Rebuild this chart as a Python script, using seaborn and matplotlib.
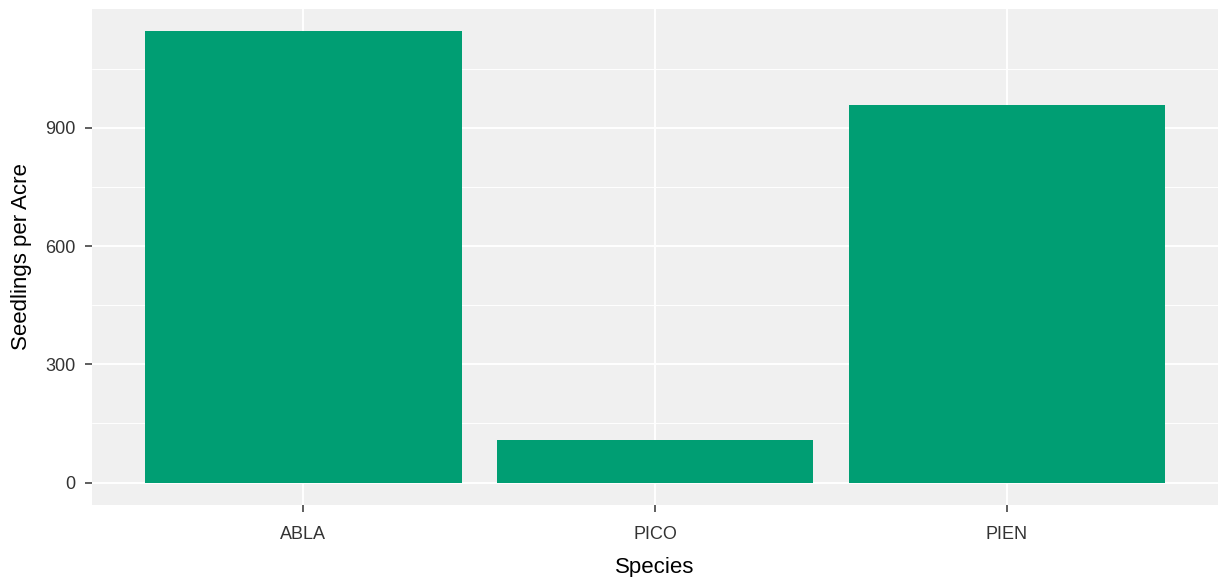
import matplotlib
matplotlib.use("Agg")
import matplotlib.pyplot as plt
import seaborn as sns
import pandas as pd

# Данные
species = ["ABLA", "PICO", "PIEN"]
seedlings = [1145, 107, 958]
y_ticks = [0, 300, 600, 900]
y_minor = [150, 450, 750, 1050]

df = pd.DataFrame({"Species": species, "Seedlings per Acre": seedlings})

sns.set_theme(style="darkgrid", rc={"axes.facecolor": "#F0F0F0",
                                     "grid.color": "white"})
plt.rcParams["font.family"] = ["Liberation Sans", "DejaVu Sans"]

fig = plt.figure(figsize=(12.19, 5.77), dpi=100)
ax = fig.add_axes([0.0755, 0.1248, 0.9237, 0.8596])

sns.barplot(data=df, x="Species", y="Seedlings per Acre",
            color="#009E73", saturation=1, width=0.9, ax=ax,
            edgecolor="none", linewidth=0, zorder=3)

ax.set_xlim(-0.6, 2.6)
ax.set_ylim(-57, 1202)
ax.set_yticks(y_ticks)
ax.set_yticks(y_minor, minor=True)
ax.grid(which="major", color="white", linewidth=1.4)
ax.grid(which="minor", axis="y", color="white", linewidth=0.7)
ax.set_axisbelow(True)
for s in ax.spines.values():
    s.set_visible(False)

ax.tick_params(axis="both", which="major", length=5, width=1.1,
               color="#333333", labelsize=13, labelcolor="#333333",
               bottom=True, left=True, pad=7)
ax.tick_params(axis="x", which="major", pad=10)
ax.tick_params(axis="y", which="minor", length=0)
ax.set_xlabel("Species", fontsize=16, color="black", labelpad=10)
ax.set_ylabel("Seedlings per Acre", fontsize=16, color="black", labelpad=9)

fig.savefig("out.png", dpi=100)
